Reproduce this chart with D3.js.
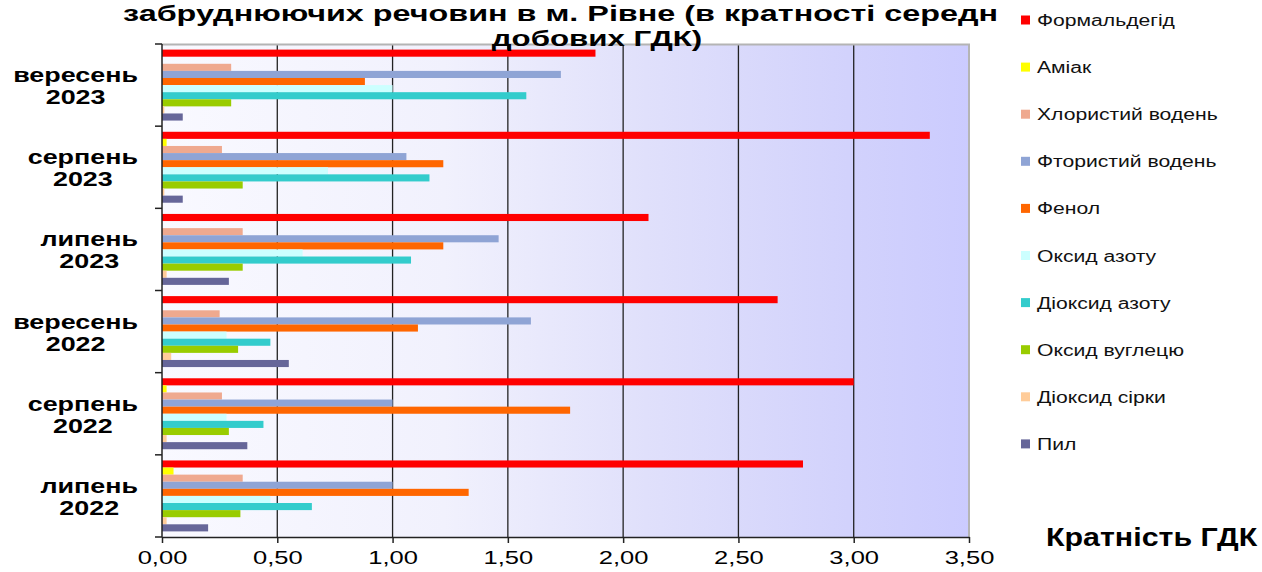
<!DOCTYPE html>
<html>
<head>
<meta charset="utf-8">
<script src="https://cdn.jsdelivr.net/npm/d3@7"></script>
<style>
  html, body { margin: 0; padding: 0; background: #fff; }
  svg { display: block; font-family: "Liberation Sans", Arial, sans-serif; }
</style>
</head>
<body>
<svg id="chart" width="1262" height="572"></svg>
<script>
// months, top to bottom as in the picture
const months = [["вересень", "2023"], ["серпень", "2023"], ["липень", "2023"],
                ["вересень", "2022"], ["серпень", "2022"], ["липень", "2022"]];
const seriesNames = ["Формальдегід", "Аміак", "Хлористий водень", "Фтористий водень", "Фенол",
                     "Оксид азоту", "Діоксид азоту", "Оксид вуглецю", "Діоксид сірки", "Пил"];
const seriesColors = ["#ff0000", "#ffff00", "#efa98f", "#8fa4d5", "#ff6600",
                      "#ccffff", "#33cccc", "#99cc00", "#ffcc99", "#666699"];

// values in multiples of daily MAC, same month order
const formaldehyde = [1.88, 3.33, 2.11, 2.67, 3.00, 2.78];
const ammonia      = [0.00, 0.02, 0.00, 0.00, 0.02, 0.05];
const hcl          = [0.30, 0.26, 0.35, 0.25, 0.26, 0.35];
const hf           = [1.73, 1.06, 1.46, 1.60, 1.00, 1.00];
const phenol       = [0.88, 1.22, 1.22, 1.11, 1.77, 1.33];
const no           = [1.00, 0.72, 0.61, 0.28, 0.28, 0.47];
const no2          = [1.58, 1.16, 1.08, 0.47, 0.44, 0.65];
const co           = [0.30, 0.35, 0.35, 0.33, 0.29, 0.34];
const so2          = [0.01, 0.01, 0.02, 0.04, 0.02, 0.02];
const dust         = [0.09, 0.09, 0.29, 0.55, 0.37, 0.20];
const seriesValues = [formaldehyde, ammonia, hcl, hf, phenol, no, no2, co, so2, dust];

const xTicks = [0, 0.5, 1, 1.5, 2, 2.5, 3, 3.5];

const svg = d3.select("#chart");
const plotLeft = 162, plotRight = 969, plotTop = 44, plotBottom = 537;

// the original picture is a bit wider than its fonts, so stretch texts horizontally
function stretch(sel, k) {
    sel.each(function () {
        const w = this.getComputedTextLength();
        this.setAttribute("textLength", w * k);
        this.setAttribute("lengthAdjust", "spacingAndGlyphs");
    });
}

const x = d3.scaleLinear().domain([0, 3.5]).range([plotLeft, plotRight]);
const monthKeys = months.map(m => m.join(" "));
const y = d3.scaleBand().domain(monthKeys).range([plotTop, plotBottom]);
const yInner = d3.scaleBand().domain(seriesNames).range([0, y.bandwidth()]).paddingOuter(0.79);

// background gradient of the plot area
const grad = svg.append("defs").append("linearGradient").attr("id", "bg")
    .attr("x1", "0%").attr("x2", "100%").attr("y1", "0%").attr("y2", "0%");
[[0, "#f9f9ff"], [0.35, "#f1f1fd"], [0.6, "#e0e0fb"], [0.85, "#d2d2fc"], [1, "#cbcbfe"]]
    .forEach(s => grad.append("stop").attr("offset", s[0]).attr("stop-color", s[1]));

svg.append("rect")
    .attr("x", plotLeft).attr("y", plotTop)
    .attr("width", plotRight - plotLeft).attr("height", plotBottom - plotTop)
    .attr("fill", "url(#bg)");

// title, first visible line
const title1 = svg.append("text")
    .attr("x", 123).attr("y", 20.5)
    .attr("font-size", 22).attr("font-weight", "bold").attr("fill", "#000")
    .text("забруднюючих речовин в м. Рівне (в кратності середн");
stretch(title1, 1.47);

// vertical grid lines
svg.append("g").selectAll("line")
    .data(xTicks.slice(1, -1))
    .join("line")
    .attr("x1", d => x(d)).attr("x2", d => x(d))
    .attr("y1", plotTop).attr("y2", plotBottom)
    .attr("stroke", "#222").attr("stroke-width", 1.3);

// border top / right
svg.append("path")
    .attr("d", `M${plotLeft},${plotTop + 0.5}H${plotRight}V${plotBottom}`)
    .attr("fill", "none").attr("stroke", "#b4b4b4").attr("stroke-width", 2);

// bars
const groups = svg.append("g").selectAll("g")
    .data(monthKeys)
    .join("g")
    .attr("transform", d => `translate(0,${y(d)})`);

groups.selectAll("rect")
    .data((m, mi) => seriesNames.map((s, si) => ({ s, v: seriesValues[si][mi], c: seriesColors[si] })))
    .join("rect")
    .attr("x", x(0))
    .attr("y", d => yInner(d.s))
    .attr("width", d => x(d.v) - x(0))
    .attr("height", yInner.bandwidth())
    .attr("fill", d => d.c);

const title2 = svg.append("text")
    .attr("x", 597).attr("y", 45.5)
    .attr("text-anchor", "middle")
    .attr("font-size", 22).attr("font-weight", "bold").attr("fill", "#000")
    .text("добових ГДК)");
stretch(title2, 1.42);

// x axis
const xAxis = svg.append("g")
    .attr("transform", `translate(0,${plotBottom})`)
    .call(d3.axisBottom(x).tickValues(xTicks).tickSize(6).tickSizeOuter(0)
        .tickFormat(d => d.toFixed(2).replace(".", ",")));
xAxis.select(".domain").attr("stroke", "#222").attr("stroke-width", 1.5);
xAxis.selectAll(".tick line").attr("stroke", "#222").attr("stroke-width", 1.5);
xAxis.selectAll(".tick text")
    .attr("y", 14).attr("dy", "0.71em")
    .attr("font-size", 18.5).attr("fill", "#000")
    .attr("font-family", "Liberation Sans, Arial, sans-serif");
stretch(xAxis.selectAll(".tick text"), 1.38);

// y axis line with ticks at band boundaries
const yAxis = svg.append("g");
yAxis.append("line")
    .attr("x1", plotLeft).attr("x2", plotLeft).attr("y1", plotTop).attr("y2", plotBottom)
    .attr("stroke", "#222").attr("stroke-width", 1.5);
yAxis.selectAll(".bt")
    .data(monthKeys.map(m => y(m)).concat([plotBottom]))
    .join("line").attr("class", "bt")
    .attr("x1", plotLeft - 7).attr("x2", plotLeft)
    .attr("y1", d => d).attr("y2", d => d)
    .attr("stroke", "#222").attr("stroke-width", 1.5);

// month labels: right-aligned block, lines centred inside it
const labelRight = 138;
months.forEach((m, i) => {
    const cy = y(monthKeys[i]) + y.bandwidth() / 2;
    const g = yAxis.append("g");
    const lines = g.selectAll("text")
        .data(m)
        .join("text")
        .attr("y", (d, j) => cy + (j === 0 ? -3 : 19))
        .attr("text-anchor", "middle")
        .attr("font-size", 21).attr("font-weight", "bold").attr("fill", "#000")
        .text(d => d);
    stretch(lines, 1.28);
    let maxW = 0;
    lines.each(function () { maxW = Math.max(maxW, +this.getAttribute("textLength")); });
    lines.attr("x", labelRight - maxW / 2);
});

// axis title
const axTitle = svg.append("text")
    .attr("x", 1046).attr("y", 546)
    .attr("font-size", 25).attr("font-weight", "bold").attr("fill", "#000")
    .text("Кратність ГДК");
stretch(axTitle, 1.215);

// legend
const legend = svg.append("g");
legend.append("rect")
    .attr("x", 1010).attr("y", 0).attr("width", 252).attr("height", 470)
    .attr("fill", "#fff");
const items = legend.selectAll("g.item")
    .data(seriesNames)
    .join("g").attr("class", "item")
    .attr("transform", (d, i) => `translate(1021,${20 + i * 47.1})`);
items.append("rect")
    .attr("x", 0).attr("y", -4.5).attr("width", 9).attr("height", 9)
    .attr("fill", (d, i) => seriesColors[i]);
const legText = items.append("text")
    .attr("x", 16).attr("y", 6)
    .attr("font-size", 16).attr("fill", "#111")
    .text(d => d);
stretch(legText, 1.32);
</script>
</body>
</html>
